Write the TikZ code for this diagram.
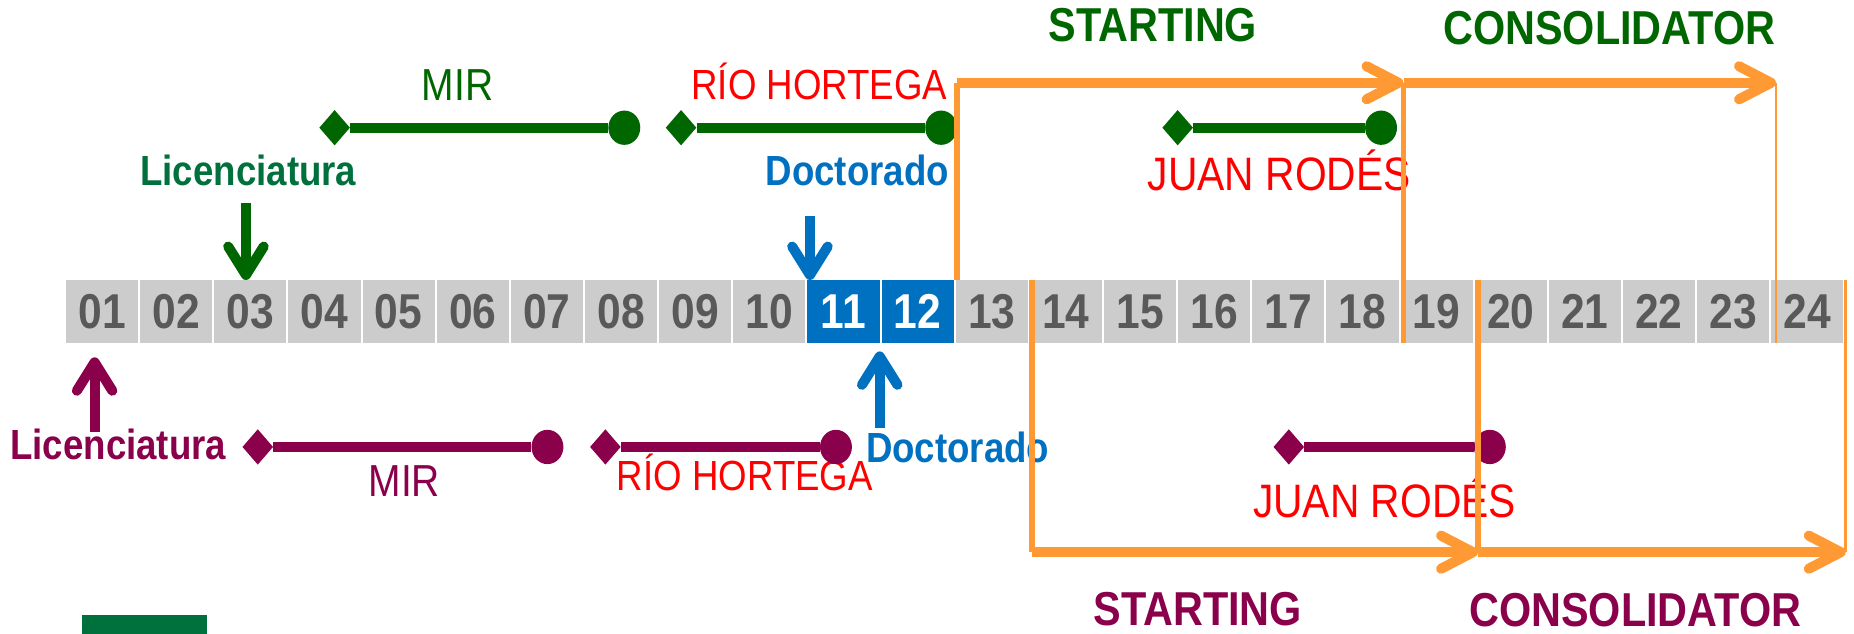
\documentclass[tikz,border=0pt]{standalone}
\usepackage{fontspec}
\setmainfont{Liberation Sans}
\usetikzlibrary{arrows.meta,shapes.geometric}

\newcommand{\tallbox}[1]{\scalebox{1}[1.15]{#1}}

\begin{document}
\begin{tikzpicture}
		[x=1pt,y=-1pt,
		%Styles
		cell/.style={minimum width=61pt,minimum height=53pt,inner sep=0pt,fill=cellgray,text=numgray,font=\fontsize{36}{36}\selectfont\bfseries},
		cell hi/.style={cell,fill=docblue,text=white},
		start mark/.style={diamond,fill=#1,inner sep=0pt,minimum width=26pt,minimum height=30pt},
		end mark/.style={ellipse,fill=#1,inner sep=0pt,minimum width=27pt,minimum height=29pt},
		period/.style={line width=8.5pt,#1},
		degree/.style={line width=8.5pt,#1,-{Straight Barb[length=24pt,width=30pt,round]}},
		grant/.style={line width=8.5pt,grantorange,-{Straight Barb[length=27pt,width=28pt,round]}},
		grant edge/.style={line width=5pt,grantorange},
		grant end/.style={line width=2.5pt,grantorange},
		prog/.style={font=\fontsize{33}{33}\selectfont,inner sep=0pt,anchor=base,text=#1},
		deg/.style={font=\fontsize{31}{31}\selectfont\bfseries,inner sep=0pt,anchor=base,text=#1},
		call/.style={font=\fontsize{35}{35}\selectfont\bfseries,inner sep=0pt,anchor=base,text=#1}
		]
		
		%Colors
		\definecolor{topgreen}{HTML}{006600}
		\definecolor{licgreen}{HTML}{00703C}
		\definecolor{lowpurple}{HTML}{8B004B}
		\definecolor{docblue}{HTML}{0070C0}
		\definecolor{cellgray}{HTML}{CCCCCC}
		\definecolor{numgray}{HTML}{595959}
		\definecolor{grantorange}{HTML}{FF9933}
		
		\useasboundingbox (0,0) rectangle (1568,536);
		
		%The years
		\foreach \i in {1,...,10,13,14,...,24}
			\node[cell] (c\i) at (23.65+62.7*\i,263.5) {\tallbox{\ifnum\i<10 0\fi\i}};
		\foreach \i in {11,12}
			\node[cell hi] (c\i) at (23.65+62.7*\i,263.5) {\tallbox{\i}};
		
		%Upper career
		\node[call=topgreen] (startT) at (975,35) {\tallbox{STARTING}};
		\node[call=topgreen] (consT) at (1361,38) {\tallbox{CONSOLIDATOR}};
		\node[prog=topgreen] (mirT) at (387,85) {\tallbox{MIR}};
		\node[prog=red,font=\fontsize{31}{31}\selectfont] (rioT) at (693,84) {\tallbox{RÍO HORTEGA}};
		\node[deg=licgreen] (licT) at (210,157) {\tallbox{Licenciatura}};
		\node[deg=docblue] (docT) at (725,157) {\tallbox{Doctorado}};
		\node[prog=red,font=\fontsize{34.5}{34.5}\selectfont] (juanT) at (1082,161) {\tallbox{JUAN RODÉS}};
		
		\node[start mark=topgreen] (mirTa) at (283,108) {};
		\node[end mark=topgreen] (mirTb) at (528,108) {};
		\node[start mark=topgreen] (rioTa) at (576,108) {};
		\node[end mark=topgreen] (rioTb) at (796,108) {};
		\node[start mark=topgreen] (juanTa) at (996,108) {};
		\node[end mark=topgreen] (juanTb) at (1168,108) {};
		\draw[period=topgreen] (mirTa) -- (mirTb);
		\draw[period=topgreen] (rioTa) -- (rioTb);
		\draw[period=topgreen] (juanTa) -- (juanTb);
		
		\coordinate (licTa) at (208,172);
		\coordinate (docTa) at (685,183);
		\draw[degree=topgreen] (licTa) -- (licTa |- c3.north);
		\draw[degree=docblue] (docTa) -- (docTa |- c11.north);
		
		%Lower career
		\node[call=lowpurple] (startB) at (1013,529) {\tallbox{STARTING}};
		\node[call=lowpurple] (consB) at (1383,530) {\tallbox{CONSOLIDATOR}};
		\node[prog=lowpurple] (mirB) at (342,420) {\tallbox{MIR}};
		\node[prog=red,font=\fontsize{31}{31}\selectfont] (rioB) at (630,415) {\tallbox{RÍO HORTEGA}};
		\node[deg=lowpurple] (licB) at (100,389) {\tallbox{Licenciatura}};
		\node[deg=docblue] (docB) at (810,391) {\tallbox{Doctorado}};
		\node[prog=red,font=\fontsize{34.5}{34.5}\selectfont] (juanB) at (1171,438) {\tallbox{JUAN RODÉS}};
		
		\node[start mark=lowpurple] (mirBa) at (218,378) {};
		\node[end mark=lowpurple] (mirBb) at (463,378) {};
		\node[start mark=lowpurple] (rioBa) at (512,378) {};
		\node[end mark=lowpurple] (rioBb) at (707,378) {};
		\node[start mark=lowpurple] (juanBa) at (1090,378) {};
		\node[end mark=lowpurple] (juanBb) at (1260,378) {};
		\draw[period=lowpurple] (mirBa) -- (mirBb);
		\draw[period=lowpurple] (rioBa) -- (rioBb);
		\draw[period=lowpurple] (juanBa) -- (juanBb);
		
		\coordinate (licBa) at (80,365);
		\coordinate (docBa) at (744,362);
		\draw[degree=lowpurple,shorten >=12pt] (licBa) -- (licBa |- c1.south);
		\draw[degree=docblue,shorten >=7pt] (docBa) -- (docBa |- c12.south);
		
		%ERC grants
		\coordinate (stT) at (809,70);
		\coordinate (coT) at (1187,70);
		\coordinate (enT) at (1502,70);
		\draw[grant edge] (stT) -- (stT |- c13.north);
		\draw[grant edge] (coT) -- (coT |- c19.south);
		\draw[grant end] (enT) -- (enT |- c24.south);
		\draw[grant] (stT) -- (coT);
		\draw[grant] (coT) -- (enT);
		
		\coordinate (stB) at (873,467);
		\coordinate (coB) at (1250,467);
		\coordinate (enB) at (1561,467);
		\draw[grant edge] (stB |- c14.north) -- (stB);
		\draw[grant edge] (coB |- c20.north) -- (coB);
		\draw[grant end] (enB |- c24.north) -- (enB);
		\draw[grant] (stB) -- (coB);
		\draw[grant] (coB) -- (enB);
		
		\fill[licgreen] (69,520) rectangle (175,540);
\end{tikzpicture}
\end{document}
